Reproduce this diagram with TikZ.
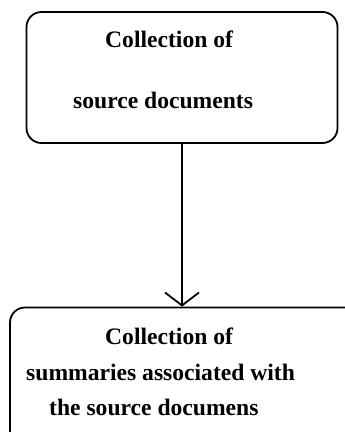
\documentclass[tikz,border=0pt]{standalone}
\usepackage{fontspec}
\setmainfont{Liberation Serif}
\usetikzlibrary{arrows.meta}
\begin{document}
\begin{tikzpicture}[x=1pt,y=-1pt,
  box/.style={draw, line width=1.8pt, rounded corners=15pt, inner sep=0pt},
  lbl/.style={anchor=base west, inner sep=0pt, font=\fontsize{23.6}{28}\selectfont\bfseries},
  conn/.style={line width=2pt, -{Straight Barb[length=13pt,width=34pt,line width=1.8pt]}}]
\useasboundingbox (0,0) rectangle (345,432);
\clip (0,0) rectangle (345,432);
\node[box, minimum width=311pt, minimum height=131pt] (top) at (182,77.5) {};
\node[box, minimum width=350pt, minimum height=146pt] (bot) at (185,380.5) {};
\node[lbl] (t1) at (105,47) {Collection of};
\node[lbl] (t2) at (73,108) {source documents};
\node[lbl] (b1) at (105,344) {Collection of};
\node[lbl] (b2) at (26,380) {summaries associated with};
\node[lbl] (b3) at (49,415) {the source documens};
\draw[conn] (top.south) -- (top.south |- bot.north);
\end{tikzpicture}
\end{document}
